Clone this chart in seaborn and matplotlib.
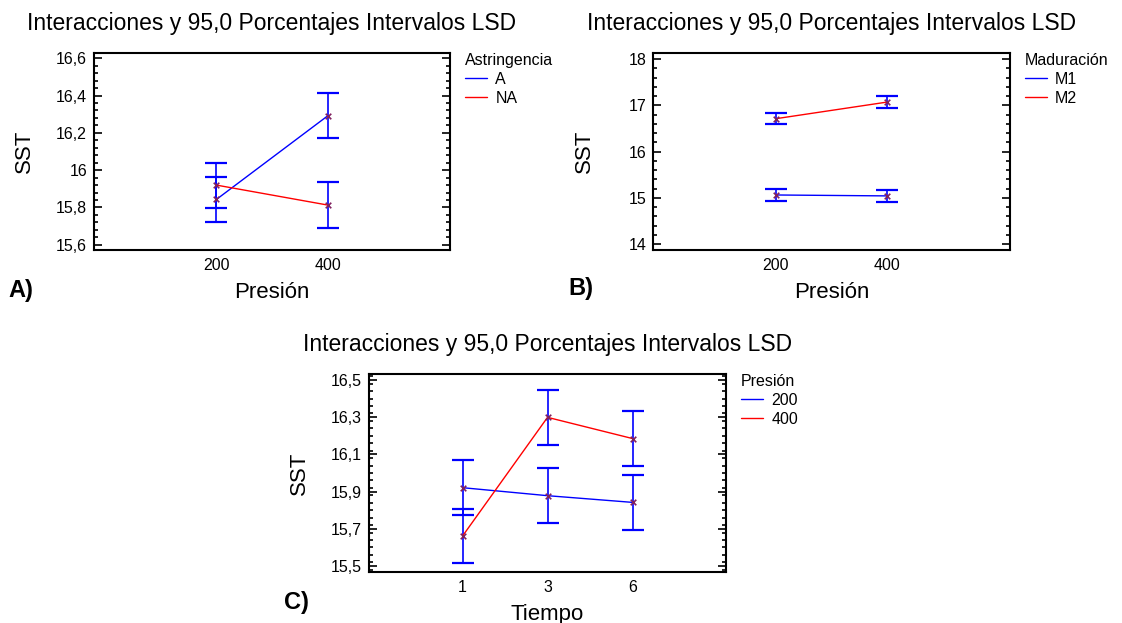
import numpy as np
import pandas as pd
import seaborn as sns
import matplotlib
matplotlib.use("Agg")
from matplotlib import pyplot as plt
from matplotlib.ticker import MultipleLocator, FixedLocator, FuncFormatter

TITLE = "Interacciones y 95,0 Porcentajes Intervalos LSD"

# A) SST vs Presion, by Astringencia
presion_levels = ["200", "400"]
astr_groups = ["A", "NA"]
sst_astr_A = [15.843, 16.291]
sst_astr_NA = [15.920, 15.813]
lsd_astr = [0.121, 0.121]

# B) SST vs Presion, by Maduracion
mad_groups = ["M1", "M2"]
sst_mad_M1 = [15.06, 15.04]
sst_mad_M2 = [16.71, 17.07]
lsd_mad = [0.122, 0.122]

# C) SST vs Tiempo, by Presion
tiempo_levels = ["1", "3", "6"]
pres_groups = ["200", "400"]
sst_pres_200 = [15.921, 15.878, 15.842]
sst_pres_400 = [15.661, 16.299, 16.185]
lsd_pres = [0.147, 0.147, 0.147]

BLUE = "#0000ff"
RED = "#ff0000"


def comma_fmt(v, pos):
    return ("%g" % round(v, 3)).replace(".", ",")


def draw_panel(ax, levels, groups, series, lsd, xlabel, legend_title,
               ylim, yticks, minor):
    rows = []
    for g, vals in zip(groups, series):
        for i, (lev, v) in enumerate(zip(levels, vals)):
            rows.append({"pos": i, "level": lev, "group": g, "sst": v, "lsd": lsd[i]})
    df = pd.DataFrame(rows)

    ax.errorbar(df["pos"], df["sst"], yerr=df["lsd"], fmt="none", ecolor=BLUE,
                elinewidth=1.2, capsize=8, capthick=1.6, zorder=2)
    sns.lineplot(data=df, x="pos", y="sst", hue="group", hue_order=groups,
                 palette=dict(zip(groups, [BLUE, RED])), errorbar=None,
                 linewidth=1.0, ax=ax, zorder=3)
    sns.scatterplot(data=df, x="pos", y="sst", marker="x", color="#80205f",
                    s=16, linewidth=1.2, legend=False, ax=ax, zorder=4)

    n = len(levels)
    ax.set_xticks(range(n), levels)
    ax.set_xlim(-1.1, n + 0.1)
    ax.set_ylim(*ylim)
    ax.yaxis.set_major_locator(FixedLocator(yticks))
    ax.yaxis.set_minor_locator(MultipleLocator(minor))
    ax.yaxis.set_major_formatter(FuncFormatter(comma_fmt))

    ax.tick_params(axis="y", which="both", direction="in", left=True, right=True,
                   width=1.2, labelsize=11.5, pad=5, colors="black")
    ax.tick_params(axis="y", which="major", length=6)
    ax.tick_params(axis="y", which="minor", length=3)
    ax.tick_params(axis="x", length=0, labelsize=11.5, pad=6, colors="black")
    for s in ax.spines.values():
        s.set_visible(True)
        s.set_color("black")
        s.set_linewidth(1.5)

    ax.set_title(TITLE, fontsize=16.5, pad=16.5, color="black")
    ax.set_xlabel(xlabel, fontsize=16, color="black")
    ax.set_ylabel("SST", fontsize=16, color="black")
    ax.xaxis.set_label_coords(0.5, -0.162)
    ax.yaxis.set_label_coords(-0.165, 0.5)

    sns.move_legend(ax, "upper left", bbox_to_anchor=(1.042, 1.0), frameon=False,
                    title=legend_title, title_fontsize=11.5, fontsize=11.5,
                    alignment="left", borderpad=0, borderaxespad=0,
                    handlelength=1.4, handletextpad=0.5, labelspacing=0.25)


sns.set_style("white")
plt.rcParams["font.family"] = ["Liberation Sans", "DejaVu Sans"]
plt.rcParams["text.color"] = "black"

fig = plt.figure(figsize=(11.22, 6.23), dpi=100)
ax_a = fig.add_axes([0.0838, 0.5987, 0.3173, 0.3162])
ax_b = fig.add_axes([0.5824, 0.5987, 0.3177, 0.3162])
ax_c = fig.add_axes([0.3289, 0.0819, 0.3182, 0.3178])

draw_panel(ax_a, presion_levels, astr_groups, [sst_astr_A, sst_astr_NA], lsd_astr,
           "Presión", "Astringencia", (15.572, 16.628),
           np.round(np.arange(15.6, 16.61, 0.2), 2), 0.04)
draw_panel(ax_b, presion_levels, mad_groups, [sst_mad_M1, sst_mad_M2], lsd_mad,
           "Presión", "Maduración", (13.87, 18.13),
           np.arange(14, 18.1, 1), 0.2)
draw_panel(ax_c, tiempo_levels, pres_groups, [sst_pres_200, sst_pres_400], lsd_pres,
           "Tiempo", "Presión", (15.468, 16.532),
           np.round(np.arange(15.5, 16.51, 0.2), 2), 0.04)

fig.text(8 / 1122, 1 - 291 / 623, "A)", fontsize=17, fontweight="bold", va="center")
fig.text(568 / 1122, 1 - 289 / 623, "B)", fontsize=17, fontweight="bold", va="center")
fig.text(284 / 1122, 1 - 602 / 623, "C)", fontsize=17, fontweight="bold", va="center")

fig.savefig("out.png", dpi=100)
